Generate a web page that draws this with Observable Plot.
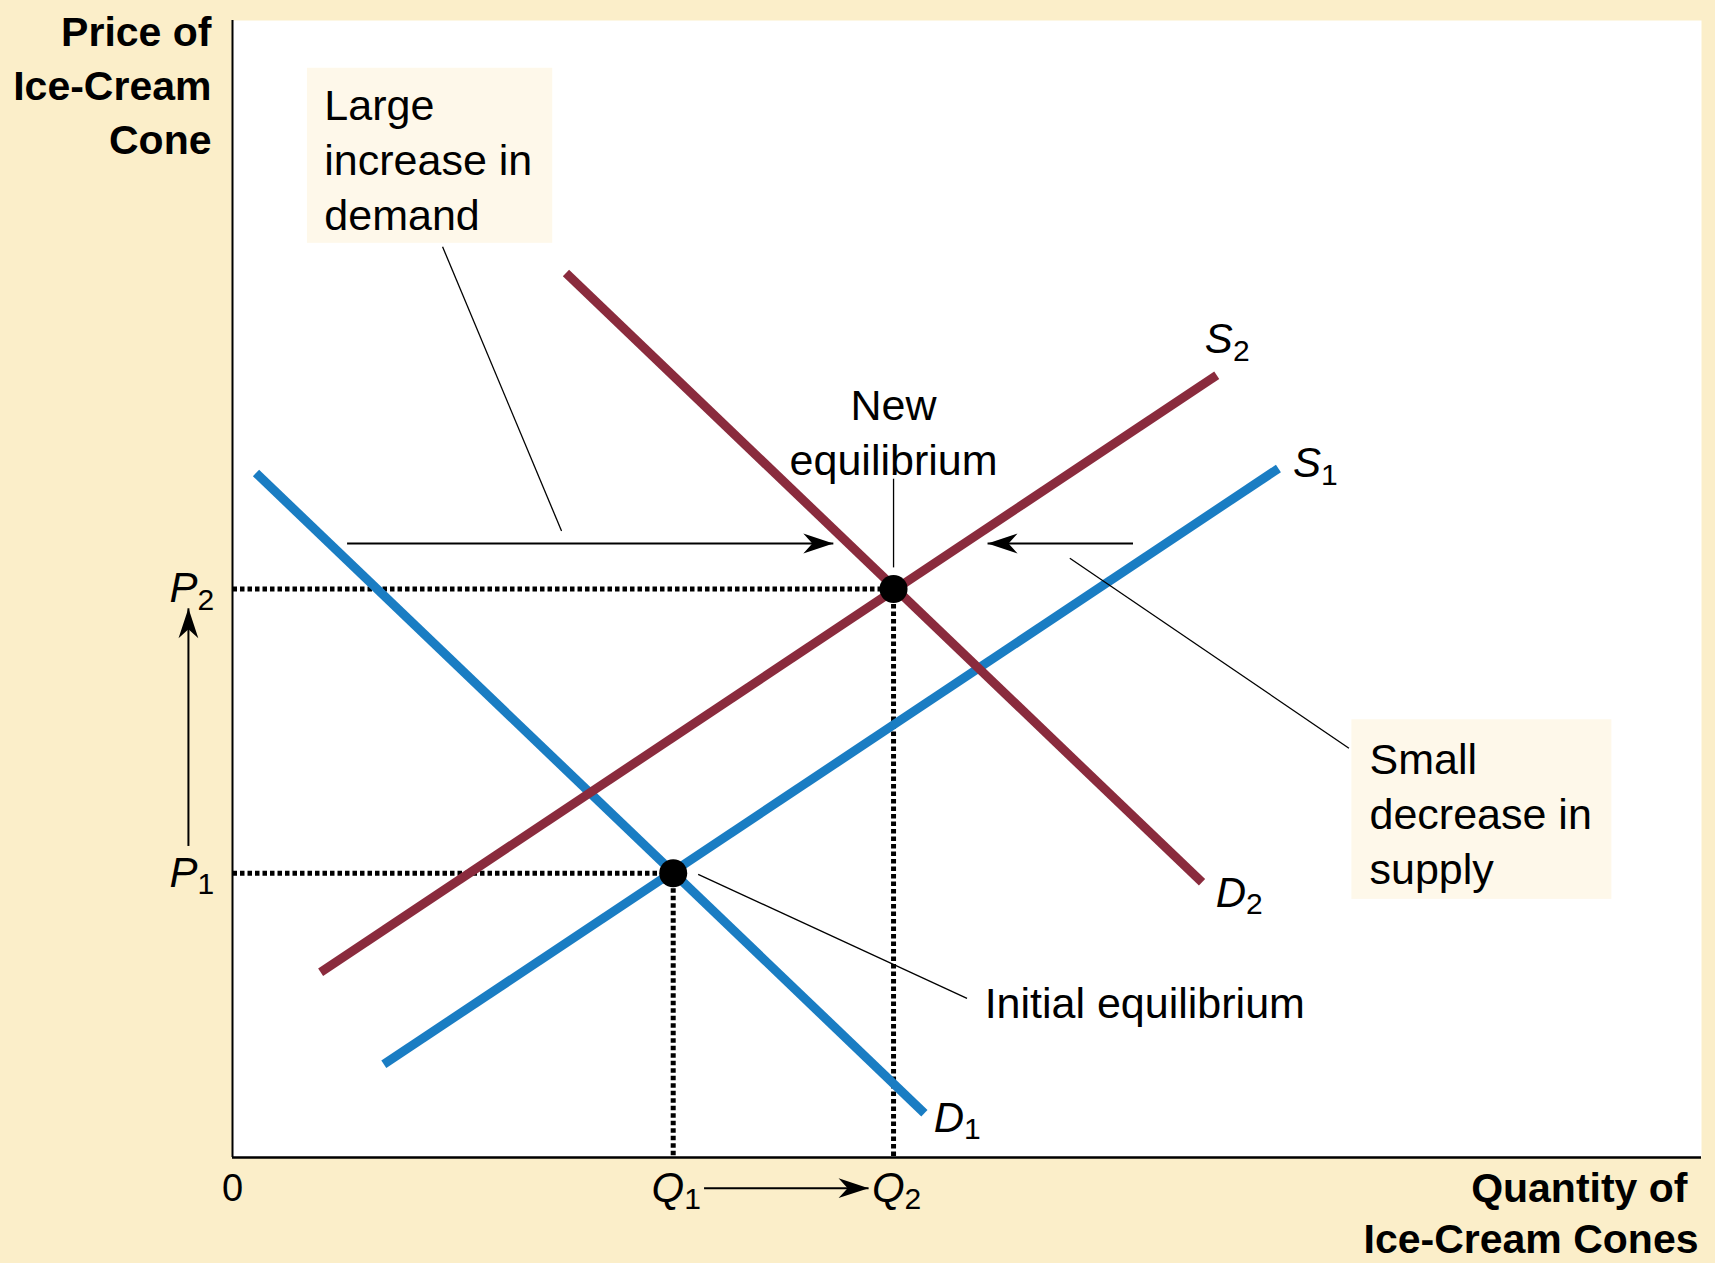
<!DOCTYPE html>
<html>
<head>
<meta charset="utf-8">
<script src="https://cdn.jsdelivr.net/npm/d3@7"></script>
<script src="https://cdn.jsdelivr.net/npm/@observablehq/plot@0.6"></script>
<style>
  html, body { margin: 0; padding: 0; background: #FBEEC9; }
  #chart svg { display: block; }
</style>
</head>
<body>
<div id="chart"></div>
<script>
// ---- Data ----
// Curves: demand and supply, initial (blue) and new (maroon)
const curveName  = ["D1", "S1", "D2", "S2"];
const curveGroup = ["initial", "initial", "new", "new"];
const curveX0 = [1.6, 10.3, 22.7, 6.0];
const curveY0 = [60.2, 8.2, 77.8, 16.3];
const curveX1 = [47.1, 71.2, 66.0, 67.0];
const curveY1 = [3.9, 60.6, 24.2, 68.8];

// Curve labels (letter + subscript)
const labelLetter = ["D", "S", "D", "S"];
const labelSub    = ["1", "1", "2", "2"];
const labelX = [49.8, 74.1, 69.0, 68.1];
const labelY = [3.4, 61.0, 23.2, 71.9];

// Equilibria
const eqName = ["Initial", "New"];
const eqQ = [30, 45];
const eqP = [25, 50];
const priceSub = ["1", "2"];
const qtySub = ["1", "2"];

// Shift arrows (demand shift, supply shift, price rise, quantity rise)
const arrowX1 = [7.8, 61.3, -3.0, 32.1];
const arrowY1 = [54.0, 54.0, 27.4, -2.7];
const arrowX2 = [40.9, 51.4, -3.0, 43.3];
const arrowY2 = [54.0, 54.0, 48.3, -2.7];

// Leader lines for annotations
const leaderX1 = [14.3, 76.0, 45.0, 50.0];
const leaderY1 = [80.1, 36.0, 59.7, 14.0];
const leaderX2 = [22.4, 57.0, 45.0, 31.7];
const leaderY2 = [55.1, 52.7, 51.9, 24.9];

// Annotation boxes
const boxText = ["Large\nincrease in\ndemand", "Small\ndecrease in\nsupply"];
const boxX1 = [5.1, 76.2];
const boxX2 = [21.8, 93.9];
const boxY1 = [80.4, 22.7];
const boxY2 = [95.8, 38.5];
const boxTextX = [6.25, 77.4];
const boxTextY = [88.0, 30.4];

// Free annotations
const noteText = ["New\nequilibrium", "Initial equilibrium"];
const noteX = [45.0, 51.2];
const noteY = [64.0, 13.5];
const noteAnchor = ["middle", "start"];

// Axis titles
const yTitle = "Price of\nIce-Cream\nCone";
const xTitle1 = "Quantity of";
const xTitle2 = "Ice-Cream Cones";

// ---- Build tables ----
const curves = curveName.map((n, i) => ({name: n, group: curveGroup[i], x1: curveX0[i], y1: curveY0[i], x2: curveX1[i], y2: curveY1[i]}));
const labels = labelLetter.map((l, i) => ({letter: l, sub: labelSub[i], x: labelX[i], y: labelY[i]}));
const eqs = eqName.map((n, i) => ({name: n, q: eqQ[i], p: eqP[i], psub: priceSub[i], qsub: qtySub[i]}));
const arrows = arrowX1.map((x, i) => ({x1: x, y1: arrowY1[i], x2: arrowX2[i], y2: arrowY2[i],
  rotate: Math.atan2(arrowX2[i] - x, arrowY2[i] - arrowY1[i]) * 180 / Math.PI}));
const leaders = leaderX1.map((x, i) => ({x1: x, y1: leaderY1[i], x2: leaderX2[i], y2: leaderY2[i]}));
const boxes = boxText.map((t, i) => ({text: t, x1: boxX1[i], x2: boxX2[i], y1: boxY1[i], y2: boxY2[i], tx: boxTextX[i], ty: boxTextY[i]}));
const notes = noteText.map((t, i) => ({text: t, x: noteX[i], y: noteY[i], anchor: noteAnchor[i]}));

const stealth = {
  draw(ctx, l) {
    const w = l * 0.33;
    ctx.moveTo(0, -l);
    ctx.lineTo(w, 0);
    ctx.lineTo(0, -l * 0.3);
    ctx.lineTo(-w, 0);
    ctx.closePath();
  }
};

const FONT = "Liberation Sans, Arial, sans-serif";
const BLUE = "#1A7DC3";
const MAROON = "#8A2B3D";

const chart = Plot.plot({
  width: 1715,
  height: 1263,
  marginLeft: 232,
  marginRight: 14,
  marginTop: 20,
  marginBottom: 106,
  x: {domain: [0, 100], axis: null},
  y: {domain: [0, 100], axis: null},
  color: {domain: ["initial", "new"], range: [BLUE, MAROON]},
  style: {background: "#FBEEC9", fontFamily: FONT, color: "black"},
  marks: [
    Plot.frame({fill: "white", stroke: "none"}),
    // annotation boxes
    Plot.rect(boxes, {x1: "x1", x2: "x2", y1: "y1", y2: "y2", fill: "#FEF8EA"}),
    // dotted guide lines
    Plot.link(eqs, {x1: 0, x2: "q", y1: "p", y2: "p", stroke: "black", strokeWidth: 5, strokeDasharray: "4.5,3"}),
    Plot.link(eqs, {x1: "q", x2: "q", y1: "p", y2: 0, stroke: "black", strokeWidth: 5, strokeDasharray: "4.5,3"}),
    // supply & demand curves
    Plot.link(curves, {x1: "x1", y1: "y1", x2: "x2", y2: "y2", stroke: "group", strokeWidth: 9, strokeLinecap: "butt"}),
    // axes lines
    Plot.ruleY([0], {stroke: "black", strokeWidth: 2.5}),
    Plot.ruleX([0], {stroke: "black", strokeWidth: 2}),
    // equilibrium points
    Plot.dot(eqs, {x: "q", y: "p", r: 14, fill: "black"}),
    // leader lines
    Plot.link(leaders, {x1: "x1", y1: "y1", x2: "x2", y2: "y2", stroke: "black", strokeWidth: 1.3}),
    // arrows
    Plot.link(arrows, {x1: "x1", y1: "y1", x2: "x2", y2: "y2", stroke: "black", strokeWidth: 2}),
    Plot.vector(arrows, {x: "x2", y: "y2", rotate: "rotate", length: 30, anchor: "end", shape: stealth, fill: "black", stroke: "none"}),
    // curve labels
    Plot.text(labels, {x: "x", y: "y", text: "letter", textAnchor: "end", fontSize: 42, fontStyle: "italic", fontFamily: FONT}),
    Plot.text(labels, {x: "x", y: "y", text: "sub", textAnchor: "start", dy: 11, fontSize: 30, fontFamily: FONT}),
    // price labels
    Plot.text(eqs, {x: 0, y: "p", text: () => "P", dx: -35, textAnchor: "end", fontSize: 42, fontStyle: "italic", fontFamily: FONT}),
    Plot.text(eqs, {x: 0, y: "p", text: "psub", dx: -35, dy: 11, textAnchor: "start", fontSize: 30, fontFamily: FONT}),
    // quantity labels
    Plot.text(eqs, {x: "q", y: 0, text: () => "Q", dx: 11, dy: 31, textAnchor: "end", fontSize: 42, fontStyle: "italic", fontFamily: FONT}),
    Plot.text(eqs, {x: "q", y: 0, text: "qsub", dx: 11, dy: 42, textAnchor: "start", fontSize: 30, fontFamily: FONT}),
    // origin
    Plot.text([0], {x: 0, y: 0, text: () => "0", dy: 31, fontSize: 38, fontFamily: FONT}),
    // box texts
    Plot.text(boxes, {x: "tx", y: "ty", text: "text", textAnchor: "start", lineAnchor: "middle", lineHeight: 1.28, fontSize: 43, fontFamily: FONT}),
    // free notes
    Plot.text(notes.filter(d => d.anchor === "middle"), {x: "x", y: "y", text: "text", textAnchor: "middle", lineAnchor: "middle", lineHeight: 1.28, fontSize: 43, fontFamily: FONT}),
    Plot.text(notes.filter(d => d.anchor === "start"), {x: "x", y: "y", text: "text", textAnchor: "start", lineAnchor: "middle", fontSize: 43, fontFamily: FONT}),
    // axis titles
    Plot.text([yTitle], {frameAnchor: "top-left", text: d => d, dx: -21, dy: 62, textAnchor: "end", lineAnchor: "middle", lineHeight: 1.32, fontSize: 41, fontWeight: "bold", fontFamily: FONT}),
    Plot.text([xTitle1], {frameAnchor: "bottom-right", text: d => d, dx: -14, dy: 31, textAnchor: "end", lineAnchor: "middle", fontSize: 41, fontWeight: "bold", fontFamily: FONT}),
    Plot.text([xTitle2], {frameAnchor: "bottom-right", text: d => d, dx: -3, dy: 82, textAnchor: "end", lineAnchor: "middle", fontSize: 41, fontWeight: "bold", fontFamily: FONT})
  ]
});
document.getElementById("chart").appendChild(chart);
</script>
</body>
</html>
